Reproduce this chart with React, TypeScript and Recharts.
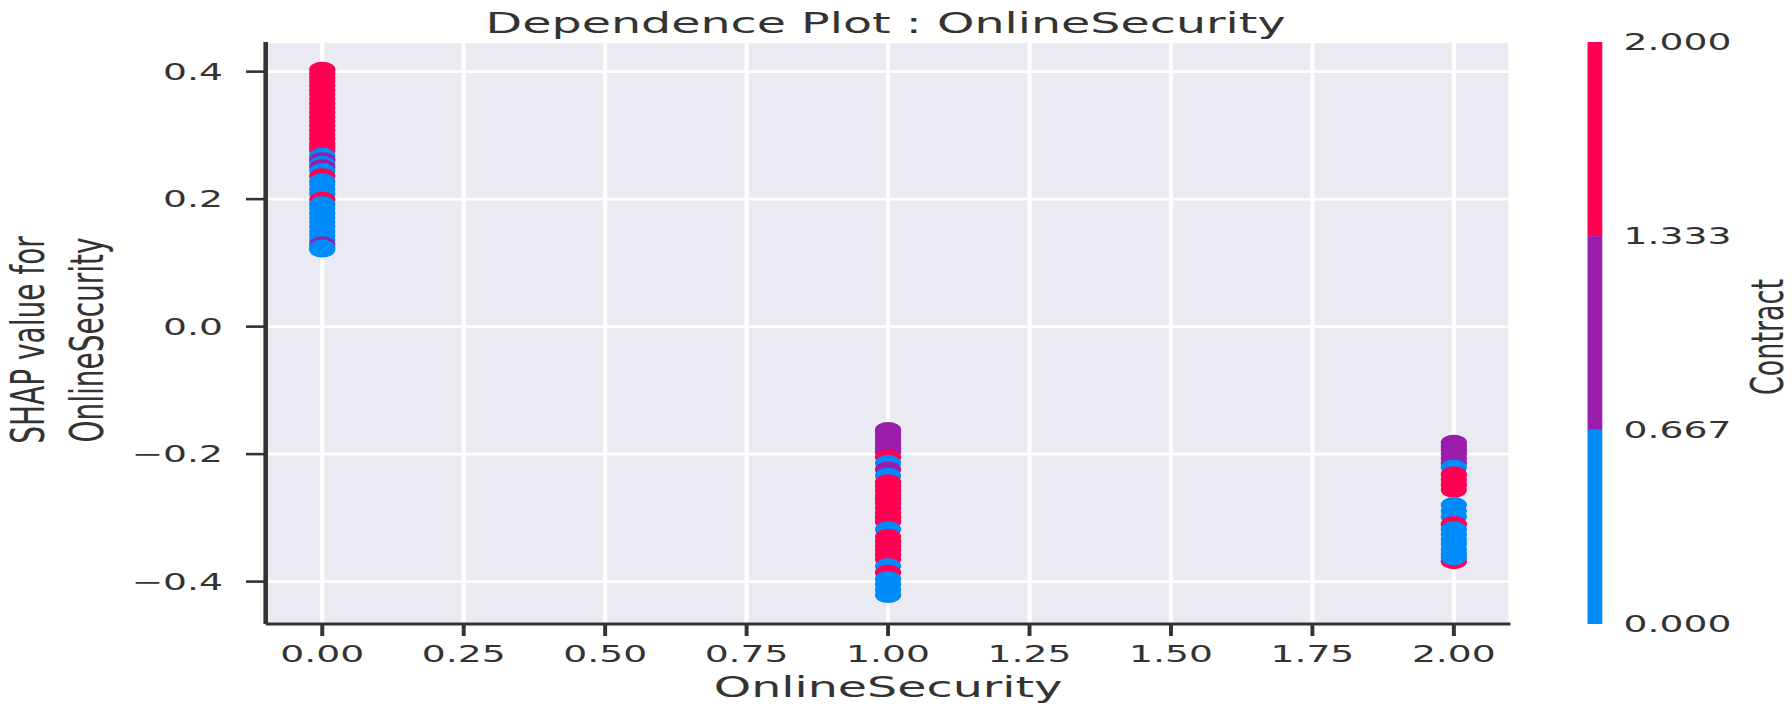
import { ScatterChart, Scatter, XAxis, YAxis, CartesianGrid } from 'recharts';

// SHAP values per OnlineSecurity column, with the Contract value of each point (draw order kept)
const shapAt0 = [
    0.403, 0.397, 0.391, 0.385, 0.378, 0.371, 0.364, 0.357, 0.35, 0.343,
    0.336, 0.329, 0.322, 0.315, 0.308, 0.301, 0.294, 0.287, 0.281, 0.276,
    0.262, 0.268, 0.261, 0.255, 0.25, 0.244, 0.236, 0.228, 0.222, 0.215,
    0.208, 0.199, 0.192, 0.185, 0.178, 0.171, 0.164, 0.157, 0.15, 0.143,
    0.136, 0.129, 0.124, 0.121,
];
const contractAt0 = [
    2, 2, 2, 2, 2, 2, 2, 2, 2, 2,
    2, 2, 2, 2, 2, 2, 2, 2, 2, 2,
    1, 0, 1, 0, 1, 0, 2, 0, 0, 0,
    0, 2, 0, 0, 0, 0, 0, 0, 0, 0,
    0, 1, 0, 0,
];

const shapAt1 = [
    -0.27, -0.3, -0.162, -0.167, -0.173, -0.179, -0.185, -0.191, -0.197, -0.205,
    -0.214, -0.224, -0.234, -0.244, -0.25, -0.257, -0.264, -0.271, -0.278, -0.285,
    -0.292, -0.299, -0.306, -0.318, -0.33, -0.337, -0.344, -0.351, -0.358, -0.365,
    -0.376, -0.386, -0.396, -0.404, -0.413, -0.421,
];
const contractAt1 = [
    0, 0, 1, 1, 1, 1, 1, 1, 1, 2,
    0, 1, 0, 2, 2, 2, 2, 2, 2, 2,
    2, 2, 2, 0, 2, 2, 2, 2, 2, 2,
    0, 2, 0, 0, 0, 0,
];

const shapAt2 = [
    -0.182, -0.188, -0.194, -0.2, -0.207, -0.214, -0.221, -0.232, -0.24, -0.248,
    -0.256, -0.28, -0.289, -0.298, -0.31, -0.318, -0.326, -0.334, -0.341, -0.368,
    -0.35, -0.357, -0.362,
];
const contractAt2 = [
    1, 1, 1, 1, 1, 1, 0, 2, 2, 2,
    2, 0, 0, 0, 2, 0, 0, 0, 0, 2,
    0, 0, 0,
];

const xTicks = [0, 0.25, 0.5, 0.75, 1, 1.25, 1.5, 1.75, 2];
const yTicks = [-0.4, -0.2, 0, 0.2, 0.4];
const contractBounds = [0, 0.667, 1.333, 2];
const contractColors = ['#008bfb', '#9a1dac', '#ff0052'];

const columns = [
    { x: 0, shap: shapAt0, contract: contractAt0 },
    { x: 1, shap: shapAt1, contract: contractAt1 },
    { x: 2, shap: shapAt2, contract: contractAt2 },
];
const points = columns.flatMap((col) =>
    col.shap.map((y, i) => ({ x: col.x, y, contract: col.contract[i] }))
);

// the reference figure is stretched horizontally, so draw narrow and scale x
const STRETCH = 1.64;
const W = 1093;
const H = 712;
const PLOT_LEFT = 162;
const PLOT_RIGHT = 921;
const PLOT_TOP = 42;
const PLOT_BOTTOM = 624;
const FONT = '"DejaVu Sans", sans-serif';
const INK = '#333333';

const fmtY = (v: number) => (v < 0 ? '\u2212' + Math.abs(v).toFixed(1) : v.toFixed(1));

const Dot = (props: any) => {
    const { cx, cy, payload } = props;
    if (cx == null || cy == null) return null;
    return <circle cx={cx} cy={cy} r={8} fill={contractColors[payload.contract]} />;
};

const cbY = (v: number) =>
    PLOT_TOP + ((contractBounds[contractBounds.length - 1] - v) / 2) * (PLOT_BOTTOM - PLOT_TOP);

export default function App() {
    return (
        <div
            style={{
                position: 'absolute',
                left: 0,
                top: 0,
                width: W,
                height: H,
                transform: `scaleX(${STRETCH})`,
                transformOrigin: '0 0',
                background: '#fff',
            }}
        >
            <ScatterChart
                width={W}
                height={H}
                margin={{ top: PLOT_TOP, right: W - PLOT_RIGHT, bottom: 0, left: 0 }}
            >
                <CartesianGrid fill="#e9eaf2" stroke="#ffffff" strokeWidth={2.6} />
                <XAxis
                    type="number"
                    dataKey="x"
                    domain={[-0.1, 2.1]}
                    ticks={xTicks}
                    allowDataOverflow
                    height={H - PLOT_BOTTOM}
                    tickFormatter={(v: number) => v.toFixed(2)}
                    tick={{ fill: INK, fontSize: 23, fontFamily: FONT }}
                    tickSize={12}
                    tickMargin={10}
                    axisLine={{ stroke: INK, strokeWidth: 2.8 }}
                    tickLine={{ stroke: INK, strokeWidth: 2.4 }}
                />
                <YAxis
                    type="number"
                    dataKey="y"
                    domain={[-0.4665, 0.4465]}
                    ticks={yTicks}
                    allowDataOverflow
                    width={PLOT_LEFT}
                    tickFormatter={fmtY}
                    tick={{ fill: INK, fontSize: 23, fontFamily: FONT }}
                    tickSize={12}
                    tickMargin={14}
                    axisLine={{ stroke: INK, strokeWidth: 2.8 }}
                    tickLine={{ stroke: INK, strokeWidth: 2.6 }}
                />
                <Scatter data={points} shape={<Dot />} isAnimationActive={false} />
            </ScatterChart>

            <svg
                width={W}
                height={H}
                style={{ position: 'absolute', left: 0, top: 0, pointerEvents: 'none' }}
            >
                <text x={540} y={33} textAnchor="middle" fontSize={29} fontFamily={FONT} fill={INK}>
                    Dependence Plot : OnlineSecurity
                </text>
                <text x={541.5} y={697} textAnchor="middle" fontSize={29} fontFamily={FONT} fill={INK}>
                    OnlineSecurity
                </text>
                <text
                    x={17}
                    y={340}
                    transform="rotate(-90, 17, 340)"
                    textAnchor="middle"
                    dominantBaseline="central"
                    fontSize={28}
                    fontFamily={FONT}
                    fill={INK}
                >
                    SHAP value for
                </text>
                <text
                    x={53}
                    y={340}
                    transform="rotate(-90, 53, 340)"
                    textAnchor="middle"
                    dominantBaseline="central"
                    fontSize={28}
                    fontFamily={FONT}
                    fill={INK}
                >
                    OnlineSecurity
                </text>

                {contractColors.map((c, i) => (
                    <rect
                        key={c}
                        x={968}
                        y={cbY(contractBounds[i + 1])}
                        width={9}
                        height={cbY(contractBounds[i]) - cbY(contractBounds[i + 1])}
                        fill={c}
                    />
                ))}
                {contractBounds.map((b) => (
                    <text
                        key={b}
                        x={990}
                        y={cbY(b) + 8.3}
                        fontSize={23}
                        fontFamily={FONT}
                        fill={INK}
                    >
                        {b.toFixed(3)}
                    </text>
                ))}
                <text
                    x={1078}
                    y={337}
                    transform="rotate(-90, 1078, 337)"
                    textAnchor="middle"
                    dominantBaseline="central"
                    fontSize={27}
                    fontFamily={FONT}
                    fill={INK}
                >
                    Contract
                </text>
            </svg>
        </div>
    );
}
